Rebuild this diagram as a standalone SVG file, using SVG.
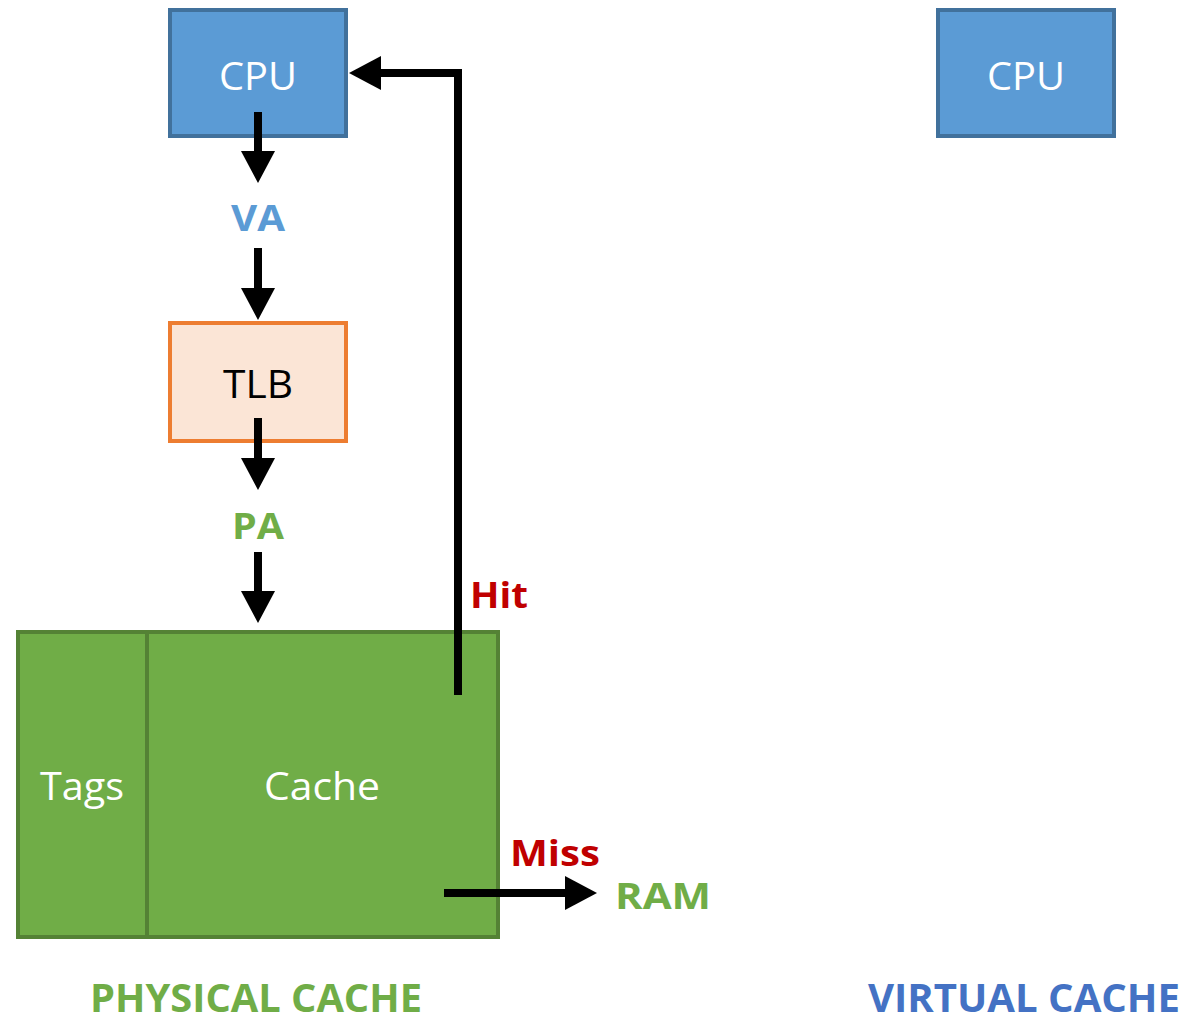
<svg xmlns="http://www.w3.org/2000/svg" width="1203" height="1024" viewBox="0 0 1203 1024">
<style>
.t{font-family:"Open Sans","Noto Sans","Liberation Sans",sans-serif;text-anchor:middle}
.w{fill:#fff}
.b{font-weight:bold}
.cpu{fill:#5B9BD5;stroke:#41719C;stroke-width:4}
.tlb{fill:#FBE5D6;stroke:#ED7D31;stroke-width:4}
.cache{fill:#70AD47;stroke:#548235;stroke-width:4}
.ln{stroke:#000;stroke-width:8;fill:none}
</style>
<defs>
<marker id="ah" markerUnits="userSpaceOnUse" markerWidth="33" markerHeight="34" refX="1" refY="17" orient="auto" overflow="visible">
<path d="M0,0 L32,17 L0,34 Z" fill="#000"/>
</marker>
</defs>
<rect width="1203" height="1024" fill="#fff"/>
<g id="cpu-physical">
<rect class="cpu" x="170" y="10" width="176" height="126"/>
<text class="t w" x="258" y="90" font-size="38" textLength="78" lengthAdjust="spacingAndGlyphs">CPU</text>
</g>
<g id="cpu-virtual">
<rect class="cpu" x="938" y="10" width="176" height="126"/>
<text class="t w" x="1026" y="90" font-size="38" textLength="78" lengthAdjust="spacingAndGlyphs">CPU</text>
</g>
<g id="va">
<text class="t b" x="258" y="231" font-size="36" fill="#5B9BD5" textLength="54" lengthAdjust="spacingAndGlyphs">VA</text>
</g>
<g id="tlb">
<rect class="tlb" x="170" y="323" width="176" height="118"/>
<text class="t" x="258" y="398" font-size="38" fill="#000" textLength="70" lengthAdjust="spacingAndGlyphs">TLB</text>
</g>
<g id="pa">
<text class="t b" x="258" y="539" font-size="36" fill="#70AD47" textLength="52" lengthAdjust="spacingAndGlyphs">PA</text>
</g>
<g id="cache-block">
<rect class="cache" x="18" y="632" width="480" height="305"/>
<line x1="147" y1="632" x2="147" y2="937" stroke="#548235" stroke-width="4"/>
<text class="t w" x="82" y="800" font-size="38" textLength="84" lengthAdjust="spacingAndGlyphs">Tags</text>
<text class="t w" x="322" y="800" font-size="38" textLength="116" lengthAdjust="spacingAndGlyphs">Cache</text>
</g>
<g id="ram">
<text class="t b" x="663" y="909" font-size="36" fill="#70AD47" textLength="96" lengthAdjust="spacingAndGlyphs">RAM</text>
</g>
<g id="labels">
<text class="t b" x="499" y="608" font-size="36" fill="#C00000" textLength="58" lengthAdjust="spacingAndGlyphs">Hit</text>
<text class="t b" x="555" y="866" font-size="36" fill="#C00000" textLength="90" lengthAdjust="spacingAndGlyphs">Miss</text>
<text class="t b" x="256" y="1012" font-size="40" fill="#70AD47" textLength="332" lengthAdjust="spacingAndGlyphs">PHYSICAL CACHE</text>
<text class="t b" x="1024" y="1012" font-size="40" fill="#4472C4" textLength="312" lengthAdjust="spacingAndGlyphs">VIRTUAL CACHE</text>
</g>
<g id="connectors">
<line class="ln" x1="258" y1="112" x2="258" y2="152" marker-end="url(#ah)"/>
<line class="ln" x1="258" y1="248" x2="258" y2="289" marker-end="url(#ah)"/>
<line class="ln" x1="258" y1="418" x2="258" y2="459" marker-end="url(#ah)"/>
<line class="ln" x1="258" y1="552" x2="258" y2="592" marker-end="url(#ah)"/>
<polyline class="ln" points="458,695 458,73 380,73" marker-end="url(#ah)"/>
<line class="ln" x1="444" y1="893" x2="566" y2="893" marker-end="url(#ah)"/>
</g>
</svg>
